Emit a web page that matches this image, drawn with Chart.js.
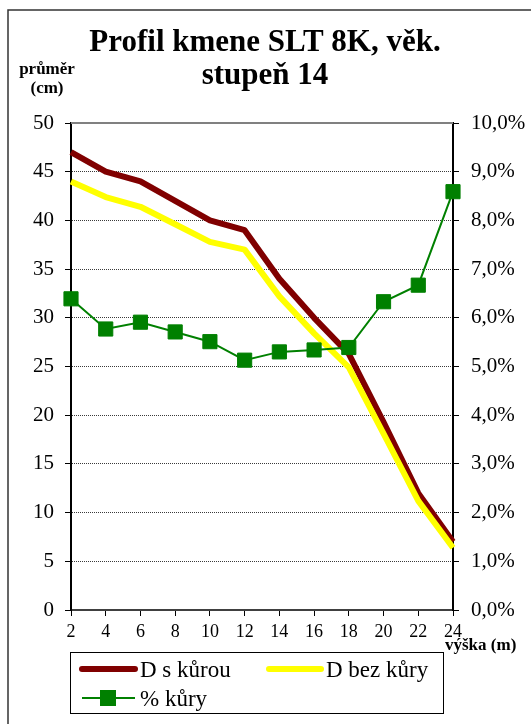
<!DOCTYPE html>
<html>
<head>
<meta charset="utf-8">
<script src="https://cdn.jsdelivr.net/npm/chart.js@4.4.0/dist/chart.umd.min.js"></script>
<style>
  html, body { margin: 0; padding: 0; background: #fff; }
  canvas { display: block; }
</style>
</head>
<body>
<canvas id="c" width="531" height="724"></canvas>
<script>
// Stem profile: diameter with / without bark and bark share along the height
const heights = ['2', '4', '6', '8', '10', '12', '14', '16', '18', '20', '22', '24'];
const diameterWithBark = [47, 45, 44, 42, 40, 39, 34, 30, 26.3, 19.3, 12, 7];
const diameterNoBark = [44, 42.4, 41.4, 39.6, 37.8, 37.0, 32.2, 28.4, 24.9, 18.1, 11.2, 6.4];
const barkPercent = [6.39, 5.77, 5.91, 5.71, 5.51, 5.13, 5.30, 5.34, 5.39, 6.33, 6.67, 8.59];

const titleLines = ['Profil kmene SLT 8K, věk.', 'stupeň 14'];
const leftAxisTitle = ['průměr', '(cm)'];
const bottomAxisTitle = 'výška (m)';
const seriesNames = ['D s kůrou', 'D bez kůry', '% kůry'];

const SERIF = '"Liberation Serif", "Times New Roman", serif';
const RED = '#800000', YELLOW = '#FFFF00', GREEN = '#008000';

const decorations = {
  id: 'decorations',
  afterDraw(chart) {
    const ctx = chart.ctx;
    const a = chart.chartArea;
    ctx.save();

    // outer frame (left and top edges)
    ctx.strokeStyle = '#333';
    ctx.lineWidth = 1.5;
    ctx.beginPath();
    ctx.moveTo(8, 724);
    ctx.lineTo(8, 10);
    ctx.lineTo(531, 10);
    ctx.stroke();

    // top edge of plot area
    ctx.strokeStyle = '#808080';
    ctx.lineWidth = 2;
    ctx.beginPath();
    ctx.moveTo(a.left, a.top);
    ctx.lineTo(a.right, a.top);
    ctx.stroke();

    // title
    ctx.fillStyle = '#000';
    ctx.textAlign = 'center';
    ctx.textBaseline = 'alphabetic';
    ctx.font = 'bold 31px ' + SERIF;
    ctx.fillText(titleLines[0], 265, 51);
    ctx.fillText(titleLines[1], 265, 84);

    // axis titles
    ctx.font = 'bold 17px ' + SERIF;
    ctx.fillText(leftAxisTitle[0], 47, 74);
    ctx.fillText(leftAxisTitle[1], 47, 93);
    ctx.textAlign = 'left';
    ctx.fillText(bottomAxisTitle, 445, 650);

    // legend box
    ctx.strokeStyle = '#000';
    ctx.lineWidth = 1;
    ctx.strokeRect(70.5, 652.5, 373, 61);

    ctx.lineCap = 'round';
    ctx.lineWidth = 6;
    ctx.strokeStyle = RED;
    ctx.beginPath(); ctx.moveTo(82, 669); ctx.lineTo(135, 669); ctx.stroke();
    ctx.strokeStyle = YELLOW;
    ctx.beginPath(); ctx.moveTo(269, 669); ctx.lineTo(321, 669); ctx.stroke();
    ctx.lineCap = 'butt';
    ctx.lineWidth = 2;
    ctx.strokeStyle = GREEN;
    ctx.beginPath(); ctx.moveTo(82, 698); ctx.lineTo(135, 698); ctx.stroke();
    ctx.fillStyle = GREEN;
    ctx.fillRect(100, 690, 16, 16);

    ctx.fillStyle = '#000';
    ctx.font = '23px ' + SERIF;
    ctx.fillText(seriesNames[0], 140, 677);
    ctx.fillText(seriesNames[1], 326, 677);
    ctx.fillText(seriesNames[2], 140, 706);

    ctx.restore();
  }
};

new Chart(document.getElementById('c'), {
  type: 'line',
  data: {
    labels: heights,
    datasets: [
      {
        label: seriesNames[0], data: diameterWithBark, yAxisID: 'y', order: 2,
        borderColor: RED, backgroundColor: RED, borderWidth: 6,
        pointRadius: 0, tension: 0, borderJoinStyle: 'round'
      },
      {
        label: seriesNames[1], data: diameterNoBark, yAxisID: 'y', order: 1,
        borderColor: YELLOW, backgroundColor: YELLOW, borderWidth: 6,
        pointRadius: 0, tension: 0, borderJoinStyle: 'round'
      },
      {
        label: seriesNames[2], data: barkPercent, yAxisID: 'y2', order: 0,
        borderColor: GREEN, backgroundColor: GREEN, borderWidth: 2,
        pointStyle: 'rect', pointRadius: 10, pointBorderWidth: 1,
        pointBackgroundColor: GREEN, pointBorderColor: GREEN, tension: 0
      }
    ]
  },
  options: {
    responsive: false,
    animation: false,
    layout: { padding: { top: 123, left: 0, right: 0, bottom: 0 } },
    plugins: { legend: { display: false }, title: { display: false }, tooltip: { enabled: false } },
    scales: {
      x: {
        type: 'category',
        offset: false,
        afterFit(s) { s.height = 114; },
        grid: { drawOnChartArea: false, drawTicks: true, tickLength: 6, tickColor: '#000' },
        border: { color: '#404040', width: 2 },
        ticks: { color: '#000', font: { family: SERIF, size: 18 }, padding: 5, maxRotation: 0, autoSkip: false }
      },
      y: {
        position: 'left',
        min: 0, max: 50,
        afterFit(s) { s.width = 71; },
        grid: { color: '#3a3a3a', lineWidth: 1, tickLength: 6, tickColor: '#000', tickWidth: 1 },
        border: { color: '#000', width: 2, dash: [1, 1] },
        ticks: { stepSize: 5, color: '#000', font: { family: SERIF, size: 21 }, padding: 11 }
      },
      y2: {
        position: 'right',
        min: 0, max: 10,
        afterFit(s) { s.width = 78; },
        grid: { drawOnChartArea: false, tickLength: 6, tickColor: '#000' },
        border: { color: '#000', width: 2 },
        ticks: {
          stepSize: 1, color: '#000', font: { family: SERIF, size: 21 }, padding: 12,
          callback: v => v.toFixed(1).replace('.', ',') + '%'
        }
      }
    }
  },
  plugins: [decorations]
});
</script>
</body>
</html>
